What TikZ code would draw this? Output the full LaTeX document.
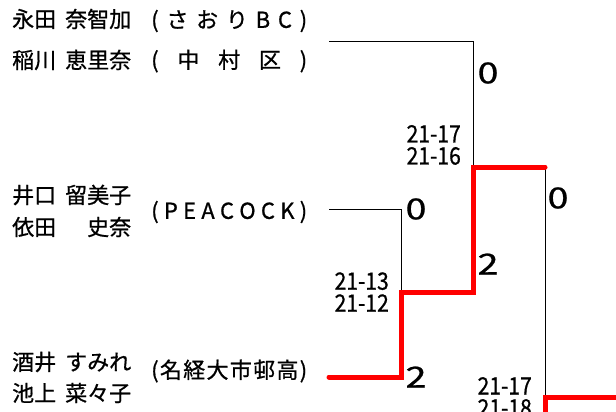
\documentclass[tikz,border=0pt]{standalone}
\usepackage{fontspec}
\setmainfont{Noto Sans CJK JP}[FakeBold=0.8]
\usetikzlibrary{positioning}

\begin{document}
\begin{tikzpicture}[x=1pt,y=-1pt]
	% Define styles
	\tikzstyle{player} = [anchor=west, inner sep=0pt, font=\fontsize{22}{22}\selectfont]
	\tikzstyle{team} = [player]
	\tikzstyle{score} = [inner sep=0pt, align=right, xscale=0.88, font=\fontsize{24}{22}\selectfont]
	\tikzstyle{games} = [inner sep=0pt, xscale=1.3, font=\fontsize{29}{29}\selectfont]
	\tikzstyle{line} = [line width=1pt]
	\tikzstyle{winline} = [red, line width=5pt, line cap=round]
	
	\useasboundingbox (0,0) rectangle (616,412);
	
	% Place players and teams
	\node [player] (p1) at (12,19) {\makebox[119pt][s]{永田 奈智加}};
	\node [player] (p2) at (12,60) {\makebox[119pt][s]{稲川 恵里奈}};
	\node [player] (p3) at (12,195) {\makebox[119pt][s]{井口 留美子}};
	\node [player] (p4) at (12,227) {\makebox[119pt][s]{依田 史奈}};
	\node [player] (p5) at (12,362) {\makebox[119pt][s]{酒井 すみれ}};
	\node [player] (p6) at (12,393) {\makebox[119pt][s]{池上 菜々子}};
	\node [team] (t1) at (151,21) {\makebox[156pt]{(\hfill さ\hfill お\hfill り\hfill B\hfill C\hfill )}};
	\node [team] (t2) at (151,61) {\makebox[156pt]{(\hfill 中\hfill 村\hfill 区\hfill )}};
	\node [team] (t3) at (151,212) {\makebox[156pt]{(\hfill P\hfill E\hfill A\hfill C\hfill O\hfill C\hfill K\hfill )}};
	\node [team] (t4) at (151,371) {\makebox[156pt]{(\hfill 名\hfill 経\hfill 大\hfill 市\hfill 邨\hfill 高\hfill )}};
	
	% Bracket points
	\coordinate (e1) at (329,42);
	\coordinate (e2) at (329,209);
	\coordinate (e3) at (329,377);
	\coordinate (c1) at (473,42);
	\coordinate (c2) at (401,209);
	\coordinate (c3) at (401,377);
	\coordinate (ma) at (401,292);
	\coordinate (ma2) at (473,292);
	\coordinate (mb) at (473,167);
	\coordinate (mb2) at (545,167);
	\coordinate (mc) at (545,397);
	\coordinate (mc1) at (545,420);
	\coordinate (mc2) at (620,397);
	
	% Draw lines
	\draw [line] (e1) -- (c1) -- (mb);
	\draw [line] (e2) -- (c2) -- (ma);
	\draw [line] (mb2) -- (mc);
	\draw [winline] (e3) -- (c3) -- (ma) -- (ma2) -- (mb) -- (mb2);
	\draw [winline] (mc1) -- (mc) -- (mc2);
	
	% Scores
	\node [score, above left=2pt and 12pt of mb] (s1) {21-17\\21-16};
	\node [score, left=12pt of ma] (s2) {21-13\\21-12};
	\node [score, left=13pt of mc] (s3) {21-17\\21-18};
	
	% Games won
	\node [games] (g1) at (488,73) {0};
	\node [games] (g2) at (558,198) {0};
	\node [games] (g3) at (416,209) {0};
	\node [games] (g4) at (488,264) {2};
	\node [games] (g5) at (416,377) {2};
\end{tikzpicture}
\end{document}
